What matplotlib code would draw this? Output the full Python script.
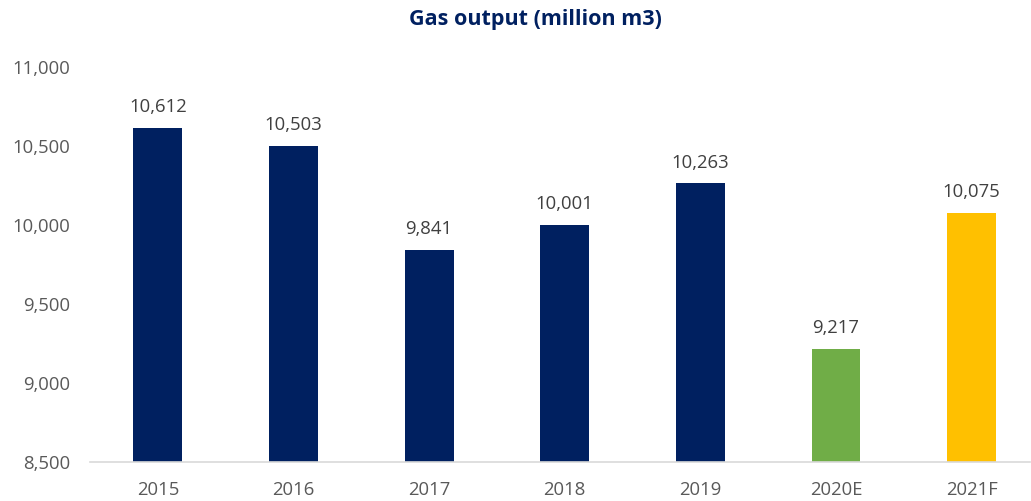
import matplotlib
matplotlib.use("Agg")
import matplotlib.pyplot as plt
from matplotlib.ticker import FuncFormatter

categories = ["2015", "2016", "2017", "2018", "2019", "2020E", "2021F"]
values = [10612, 10503, 9841, 10001, 10263, 9217, 10075]
colors = ["#002060", "#002060", "#002060", "#002060", "#002060", "#70AD47", "#FFC000"]
yticks = [8500, 9000, 9500, 10000, 10500, 11000]

plt.rcParams['font.family'] = ['Open Sans', 'DejaVu Sans']

W, H = 1031, 501
fig = plt.figure(figsize=(W / 100, H / 100), dpi=100)
ax = fig.add_axes([90 / W, 1 - 462 / H, 940 / W, (462 - 67) / H])

x = list(range(len(categories)))
bars = ax.bar(x, values, width=0.36, color=colors, zorder=2)
for xi, v in zip(x, values):
    ax.text(xi, v + 75, f"{v:,}", ha='center', va='bottom', fontsize=13.3, color='#404040')

ax.set_ylim(8500, 11000)
ax.set_xlim(-0.5, 6.43)
ax.set_yticks(yticks)
ax.yaxis.set_major_formatter(FuncFormatter(lambda v, p: f"{int(v):,}"))
ax.set_xticks(x)
ax.set_xticklabels(categories)
ax.tick_params(axis='both', length=0, labelsize=13.3, colors='#595959')
ax.tick_params(axis='y', pad=14)
ax.tick_params(axis='x', pad=14)
for s in ['top', 'right', 'left']:
    ax.spines[s].set_visible(False)
ax.spines['bottom'].set_color('#D9D9D9')
ax.spines['bottom'].set_linewidth(1.2)

fig.text(535 / W, 1 - 20 / H, "Gas output (million m3)", ha='center', va='center',
         fontsize=15.5, fontweight='bold', color='#002060')

fig.savefig("out.png", dpi=100)
